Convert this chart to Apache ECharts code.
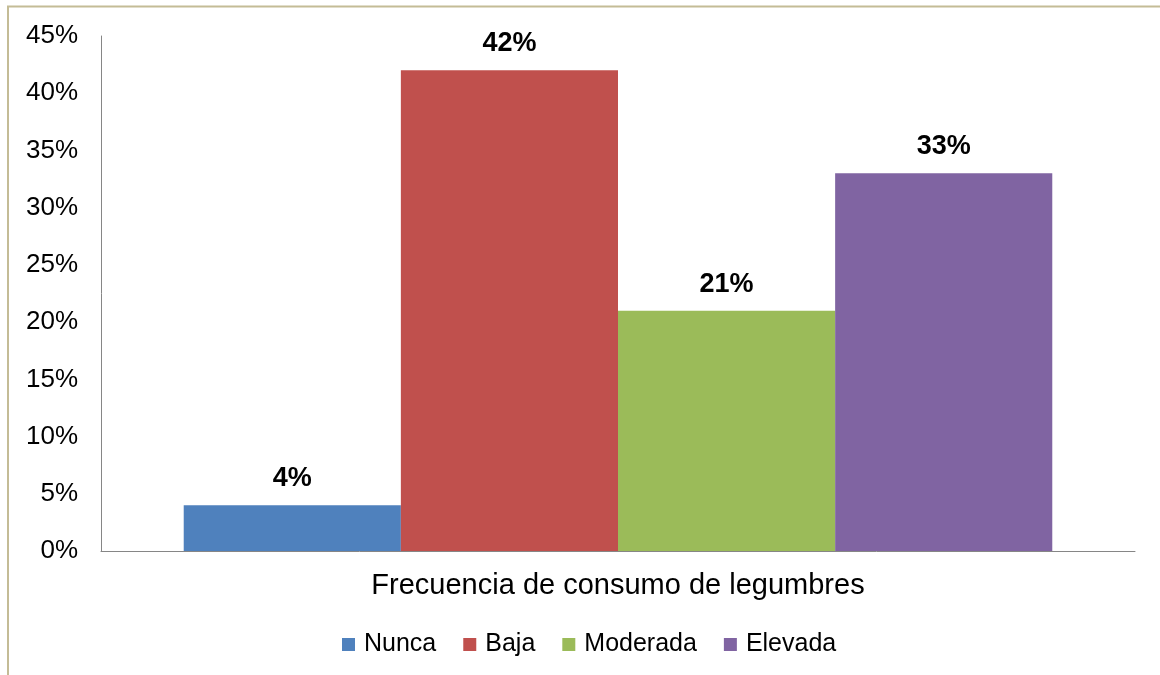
<!DOCTYPE html>
<html>
<head>
<meta charset="utf-8">
<script src="https://cdn.jsdelivr.net/npm/echarts@6/dist/echarts.min.js"></script>
<style>
  html, body { margin: 0; padding: 0; background: #ffffff; }
  #chart { width: 1160px; height: 675px; }
</style>
</head>
<body>
<div id="chart"></div>
<script>
// Consumption frequency of legumes (percent of respondents)
const category = ['Frecuencia de consumo de legumbres'];
const seriesNames = ['Nunca', 'Baja', 'Moderada', 'Elevada'];
const seriesValues = [4, 42, 21, 33];
const seriesColors = ['#4f81bd', '#c0504d', '#9bbb59', '#8064a2'];

const FONT = '"Liberation Sans", Arial, sans-serif';

const chart = echarts.init(document.getElementById('chart'), null, { renderer: 'canvas' });

const series = seriesNames.map((name, i) => ({
  name: name,
  type: 'bar',
  data: [seriesValues[i]],
  itemStyle: { color: seriesColors[i] },
  barGap: '0%',
  barCategoryGap: '16%',
  label: {
    show: true,
    position: 'top',
    distance: 13,
    formatter: '{c}%',
    color: '#000000',
    fontFamily: FONT,
    fontWeight: 'bold',
    fontSize: 27
  }
}));

chart.setOption({
  animation: false,
  backgroundColor: '#ffffff',
  graphic: [{
    type: 'rect',
    shape: { x: 8, y: 6.5, width: 1200, height: 720 },
    style: { fill: 'none', stroke: '#c4bc96', lineWidth: 2 },
    silent: true
  }],
  grid: { left: 101, right: 25, top: 36, bottom: 124, containLabel: false },
  legend: {
    data: seriesNames,
    left: 337,
    top: 627,
    icon: 'rect',
    itemWidth: 13,
    itemHeight: 13,
    itemGap: 27,
    textStyle: {
      color: '#000000',
      fontFamily: FONT,
      fontSize: 25,
      lineHeight: 25,
      padding: [0, 0, 0, 4]
    }
  },
  xAxis: {
    type: 'category',
    data: category,
    axisLine: { show: true, lineStyle: { color: '#868686', width: 1 } },
    axisTick: { show: false },
    axisLabel: {
      color: '#000000',
      fontFamily: FONT,
      fontSize: 29,
      margin: 20
    }
  },
  yAxis: {
    type: 'value',
    min: 0,
    max: 45,
    interval: 5,
    axisLine: { show: true, lineStyle: { color: '#868686', width: 1 } },
    axisTick: { show: false },
    splitLine: { show: false },
    axisLabel: {
      formatter: '{value}%',
      color: '#000000',
      fontFamily: FONT,
      fontSize: 26,
      margin: 23
    }
  },
  series: series
});
</script>
</body>
</html>
